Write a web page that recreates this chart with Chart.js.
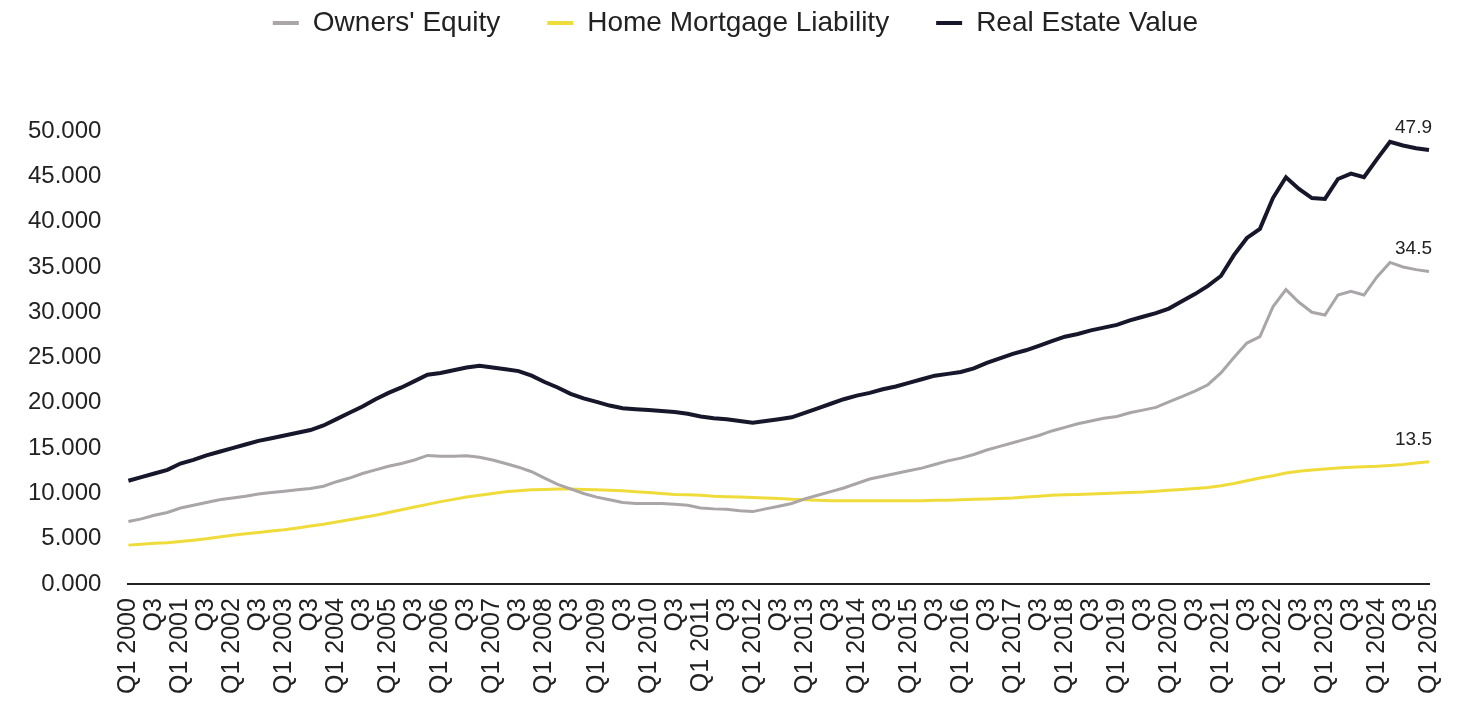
<!DOCTYPE html>
<html>
<head>
<meta charset="utf-8">
<script src="https://cdn.jsdelivr.net/npm/chart.js@4.4.1/dist/chart.umd.min.js"></script>
<style>
    html, body { margin: 0; padding: 0; background: #fff; }
    #wrap { width: 1473px; height: 703px; }
</style>
</head>
<body>
<div id="wrap"><canvas id="housing-chart"></canvas></div>
<script>
const firstYear = 2000;
const lastYear = 2025;

// Q1 2000 .. Q1 2025
const quarters = [];
for (let y = firstYear; y <= lastYear; y++) {
    for (let q = 1; q <= 4; q++) {
        if (y === lastYear && q > 1) break;
        quarters.push('Q' + q + ' ' + y);
    }
}

// trillions of dollars, one value per quarter
const ownersEquity = [
    6.9, 7.2, 7.6, 7.9,
    8.4, 8.7, 9.0, 9.3,
    9.5, 9.7, 9.95, 10.1,
    10.25, 10.4, 10.55, 10.8,
    11.3, 11.7, 12.2, 12.6,
    13.0, 13.3, 13.7, 14.2,
    14.1, 14.1, 14.15, 14.0,
    13.7, 13.3, 12.9, 12.4,
    11.7, 11.0, 10.5, 10.0,
    9.6, 9.3, 9.0, 8.9,
    8.9, 8.9, 8.8, 8.7,
    8.4, 8.3, 8.25, 8.1,
    8.0, 8.3, 8.6, 8.9,
    9.4, 9.8, 10.2, 10.6,
    11.1, 11.6, 11.9, 12.2,
    12.5, 12.8, 13.2, 13.6,
    13.9, 14.3, 14.8, 15.2,
    15.6, 16.0, 16.4, 16.9,
    17.3, 17.7, 18.0, 18.3,
    18.5, 18.9, 19.2, 19.5,
    20.1, 20.7, 21.3, 22.0,
    23.3, 25.0, 26.6, 27.3,
    30.6, 32.5, 31.1, 30.0,
    29.7, 31.9, 32.3, 31.9,
    33.9, 35.5, 35.0, 34.7,
    34.5
];

const mortgageLiability = [
    4.3, 4.4, 4.5, 4.55,
    4.7, 4.85, 5.0, 5.2,
    5.4, 5.55, 5.7, 5.85,
    6.0, 6.2, 6.4, 6.6,
    6.85, 7.1, 7.35, 7.6,
    7.9, 8.2, 8.5, 8.8,
    9.1, 9.35, 9.6, 9.8,
    10.0, 10.2, 10.3, 10.4,
    10.45, 10.5, 10.5, 10.45,
    10.4, 10.35, 10.3, 10.2,
    10.1, 10.0, 9.9, 9.85,
    9.8, 9.7, 9.65, 9.6,
    9.55, 9.5, 9.45, 9.35,
    9.3, 9.25, 9.2, 9.2,
    9.2, 9.2, 9.2, 9.2,
    9.2, 9.2, 9.25, 9.25,
    9.3, 9.35, 9.4, 9.45,
    9.5, 9.6, 9.7, 9.8,
    9.85, 9.9, 9.95, 10.0,
    10.05, 10.1, 10.15, 10.25,
    10.35, 10.45, 10.55, 10.65,
    10.85, 11.1, 11.4, 11.7,
    11.95, 12.25, 12.45, 12.6,
    12.7, 12.8, 12.9, 12.95,
    13.0, 13.1, 13.2, 13.35,
    13.5
];

const realEstateValue = [
    11.4, 11.8, 12.2, 12.6,
    13.3, 13.7, 14.2, 14.6,
    15.0, 15.4, 15.8, 16.1,
    16.4, 16.7, 17.0, 17.5,
    18.2, 18.9, 19.6, 20.4,
    21.1, 21.7, 22.4, 23.1,
    23.3, 23.6, 23.9, 24.1,
    23.9, 23.7, 23.5, 23.0,
    22.3, 21.7, 21.0, 20.5,
    20.1, 19.7, 19.4, 19.3,
    19.2, 19.1, 19.0, 18.8,
    18.5, 18.3, 18.2, 18.0,
    17.8, 18.0, 18.2, 18.4,
    18.9, 19.4, 19.9, 20.4,
    20.8, 21.1, 21.5, 21.8,
    22.2, 22.6, 23.0, 23.2,
    23.4, 23.8, 24.4, 24.9,
    25.4, 25.8, 26.3, 26.8,
    27.3, 27.6, 28.0, 28.3,
    28.6, 29.1, 29.5, 29.9,
    30.4, 31.2, 32.0, 32.9,
    34.0, 36.3, 38.2, 39.2,
    42.6, 44.9, 43.6, 42.6,
    42.5, 44.7, 45.3, 44.9,
    46.9, 48.8, 48.4, 48.1,
    47.9
];

const fontFamily = '"Liberation Sans", Arial, sans-serif';
const textColor = '#222222';

// taller legend block so the plot starts lower, and nudge it right a bit
const legendHeight = 169;
const legendShift = 18;
const legendFit = {
    id: 'legendFit',
    beforeInit(chart) {
        const legend = chart.legend;
        const fit = legend.fit;
        legend.fit = function () {
            fit.call(this);
            this.height = legendHeight;
        };
        const draw = legend.draw;
        legend.draw = function () {
            this.ctx.save();
            this.ctx.translate(legendShift, 0);
            draw.call(this);
            this.ctx.restore();
        };
    }
};

// last value written above the end of each line
const endLabels = {
    id: 'endLabels',
    afterDatasetsDraw(chart) {
        const ctx = chart.ctx;
        ctx.save();
        ctx.font = '19px ' + fontFamily;
        ctx.fillStyle = textColor;
        ctx.textAlign = 'right';
        ctx.textBaseline = 'alphabetic';
        chart.data.datasets.forEach((ds, i) => {
            const meta = chart.getDatasetMeta(i);
            const pt = meta.data[meta.data.length - 1];
            const v = ds.data[ds.data.length - 1];
            ctx.fillText(v.toFixed(1), pt.x + 3, pt.y - 17);
        });
        ctx.restore();
    }
};

function lineSet(label, data, color, width) {
    return {
        label: label,
        data: data,
        borderColor: color,
        backgroundColor: color,
        borderWidth: width,
        pointRadius: 0,
        pointHoverRadius: 0,
        tension: 0,
        fill: false
    };
}

const ctx = document.getElementById('housing-chart').getContext('2d');
const housingChart = new Chart(ctx, {
    type: 'line',
    data: {
        labels: quarters,
        datasets: [
            lineSet("Owners' Equity", ownersEquity, '#a9a5a8', 3),
            lineSet('Home Mortgage Liability', mortgageLiability, '#efdc3a', 3),
            lineSet('Real Estate Value', realEstateValue, '#17172b', 4)
        ]
    },
    plugins: [legendFit, endLabels],
    options: {
        responsive: true,
        maintainAspectRatio: false,
        animation: false,
        layout: {
            padding: { top: -38, left: 1, right: 39, bottom: -5 }
        },
        plugins: {
            legend: {
                position: 'top',
                labels: {
                    boxWidth: 26,
                    boxHeight: 4,
                    padding: 47,
                    color: textColor,
                    font: { size: 28, family: fontFamily },
                    generateLabels(chart) {
                        const items = Chart.defaults.plugins.legend.labels.generateLabels(chart);
                        items.forEach(item => { item.lineWidth = 0; });
                        return items;
                    }
                }
            },
            tooltip: { enabled: false }
        },
        scales: {
            x: {
                offset: false,
                grid: { display: false, drawTicks: false },
                border: { display: true, color: '#222222', width: 2 },
                ticks: {
                    autoSkip: false,
                    minRotation: 90,
                    maxRotation: 90,
                    padding: 14,
                    color: textColor,
                    font: { size: 25, family: fontFamily },
                    callback: function (value, index) {
                        const label = quarters[index];
                        if (label.startsWith('Q1')) return label;
                        if (label.startsWith('Q3')) return 'Q3';
                        return '';
                    }
                }
            },
            y: {
                min: 0,
                max: 50,
                grid: { display: false, drawTicks: false },
                border: { display: false },
                ticks: {
                    stepSize: 5,
                    padding: 27,
                    color: textColor,
                    font: { size: 24, family: fontFamily },
                    callback: v => v.toFixed(3)
                }
            }
        }
    }
});
</script>
</body>
</html>
